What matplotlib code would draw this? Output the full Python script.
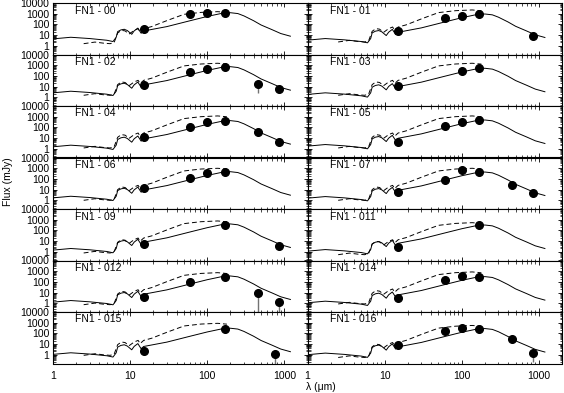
import numpy as np
import matplotlib
matplotlib.use('Agg')
import matplotlib.pyplot as plt
from matplotlib.ticker import FixedLocator, FixedFormatter, LogLocator, NullFormatter

plt.rcParams['font.family'] = ['Liberation Sans', 'DejaVu Sans']

# source names, row by row (left column, right column)
names = ['00', '01', '02', '03', '04', '05', '06', '07',
         '09', '011', '012', '014', '015', '016']

# solid model template: wavelength (um) and log10 flux relative to its far-IR peak
sed_wave = [1.0, 1.7, 3.0, 5.0, 6.0, 6.6, 6.9, 7.6, 8.4, 9.2, 10.5, 11.3, 12.6, 13.9,
            15, 30, 60, 100, 150, 200, 250, 300, 400, 500, 700, 900, 1200]
sed_rel = [-2.45, -2.30, -2.42, -2.58, -2.70, -2.30, -1.77, -1.61, -1.55, -1.67, -2.02, -1.70,
           -1.44, -1.92, -1.71, -1.30, -0.75, -0.35, -0.08, 0.0, -0.08, -0.30, -0.75,
           -1.15, -1.60, -1.95, -2.20]

# dashed model template, same convention
dash_wave = [2.5, 3.5, 4.5, 5.5, 6.2, 6.9, 7.7, 8.6, 9.7, 11.3, 12.7, 13.5,
             15, 19, 31, 50, 83, 137, 180]
dash_rel = [-3.0, -2.85, -2.95, -3.0, -2.9, -2.0, -1.75, -1.8, -2.1, -1.75, -1.6, -1.9,
            -1.6, -1.4, -0.8, -0.25, -0.07, 0.0, -0.08]

# log10 of peak flux (mJy) of each model per source
solid_peak = [3.09, 2.97, 2.86, 2.71, 2.63, 2.69, 2.67, 2.64, 2.60, 2.50, 2.55, 2.49, 2.48, 2.45]
dash_peak = [3.19, 3.35, 3.18, 3.18, 3.07, 3.07, 2.99, 2.99, 2.88, 2.72, 2.86, 2.93, 2.94, 2.74]

# photometry (um, mJy)
phot_wave = [
    [15, 60, 100, 170],
    [15, 60, 100, 170, 850],
    [15, 60, 100, 170, 450, 850],
    [15, 100, 170],
    [15, 60, 100, 170, 450, 850],
    [15, 60, 100, 170],
    [15, 60, 100, 170],
    [15, 60, 100, 170, 450, 850],
    [15, 170, 850],
    [15, 170],
    [15, 60, 170, 450, 850],
    [15, 60, 100, 170],
    [15, 170, 750],
    [15, 60, 100, 170, 450, 850],
]
phot_flux = [
    [35, 930, 1230, 1230],
    [24, 370, 620, 930, 8.7],
    [14, 220, 440, 720, 17, 5.6],
    [11.5, 310, 510],
    [13.5, 117, 340, 430, 35, 4.1],
    [4.6, 145, 340, 490],
    [13, 115, 380, 470],
    [6.3, 80, 680, 420, 27, 5.1],
    [5.4, 320, 3.7],
    [3.0, 320],
    [3.6, 91, 310, 8.5, 1.4],
    [3.0, 150, 380, 270],
    [2.4, 260, 1.2],
    [8.3, 165, 340, 260, 30, 1.4],
]

# lower error bars (source, wavelength, lower end in mJy)
err_src = ['02', '012', '012', '015', '016']
err_wave = [450, 450, 850, 750, 850]
err_low = [2.3, 0.1, 0.1, 0.1, 0.23]

W, H = 564, 393
fig = plt.figure(figsize=(W / 100, H / 100), dpi=100)
col_x = [53, 307.5]
col_w = 254.5
row_top = 3
row_h = 51.5

for k, name in enumerate(names):
    r, c = divmod(k, 2)
    ax = fig.add_axes([col_x[c] / W, 1 - (row_top + row_h * (r + 1)) / H,
                       col_w / W, row_h / H])
    ax.set_xscale('log')
    ax.set_yscale('log')

    ax.plot(sed_wave, 10 ** (solid_peak[k] + np.array(sed_rel)), color='k', lw=0.7)
    ax.plot(dash_wave, 10 ** (dash_peak[k] + np.array(dash_rel)), color='k', lw=0.7,
            dashes=(5, 3))
    for s, w, lo in zip(err_src, err_wave, err_low):
        if s == name:
            f = phot_flux[k][phot_wave[k].index(w)]
            ax.vlines(w, lo, f, color='0.45', lw=1.0, zorder=2)
    ax.plot(phot_wave[k], phot_flux[k], 'o', color='k', ms=5.5, zorder=3)

    ax.set_xlim(1, 2000)
    ax.set_ylim(0.15, 1e4)

    ax.xaxis.set_major_locator(FixedLocator([1, 10, 100, 1000]))
    ax.xaxis.set_minor_locator(LogLocator(base=10, subs=np.arange(2, 10), numticks=20))
    ax.yaxis.set_major_locator(FixedLocator([1, 10, 100, 1000, 10000]))
    ax.yaxis.set_minor_locator(LogLocator(base=10, subs=np.arange(2, 10), numticks=20))
    ax.xaxis.set_minor_formatter(NullFormatter())
    ax.yaxis.set_minor_formatter(NullFormatter())
    if r == 6:
        ax.xaxis.set_major_formatter(FixedFormatter(['1', '10', '100', '1000']))
    else:
        ax.xaxis.set_major_formatter(NullFormatter())
    if c == 0:
        ax.yaxis.set_major_formatter(FixedFormatter(['1', '10', '100', '1000', '10000']))
    else:
        ax.yaxis.set_major_formatter(NullFormatter())

    ax.tick_params(which='both', direction='in', top=True, right=True, labelsize=7.5)
    ax.tick_params(axis='x', which='major', pad=5.5)
    ax.tick_params(axis='y', which='major', pad=2.5)
    ax.tick_params(which='major', length=3.2, width=0.6)
    ax.tick_params(which='minor', length=1.8, width=0.5)
    for sp in ax.spines.values():
        sp.set_linewidth(0.8)

    ax.text(22 / col_w, 1 - 7.5 / row_h, 'FN1 - ' + name, transform=ax.transAxes,
            fontsize=7.5, va='center', ha='left')

fig.text(8 / W, 1 - 182 / H, 'Flux (mJy)', rotation=90, fontsize=7.5,
         ha='center', va='center')
fig.text(321 / W, 1 - 387 / H, 'λ (μm)', fontsize=7.5, ha='center', va='center')

fig.savefig('out.png', dpi=100)
